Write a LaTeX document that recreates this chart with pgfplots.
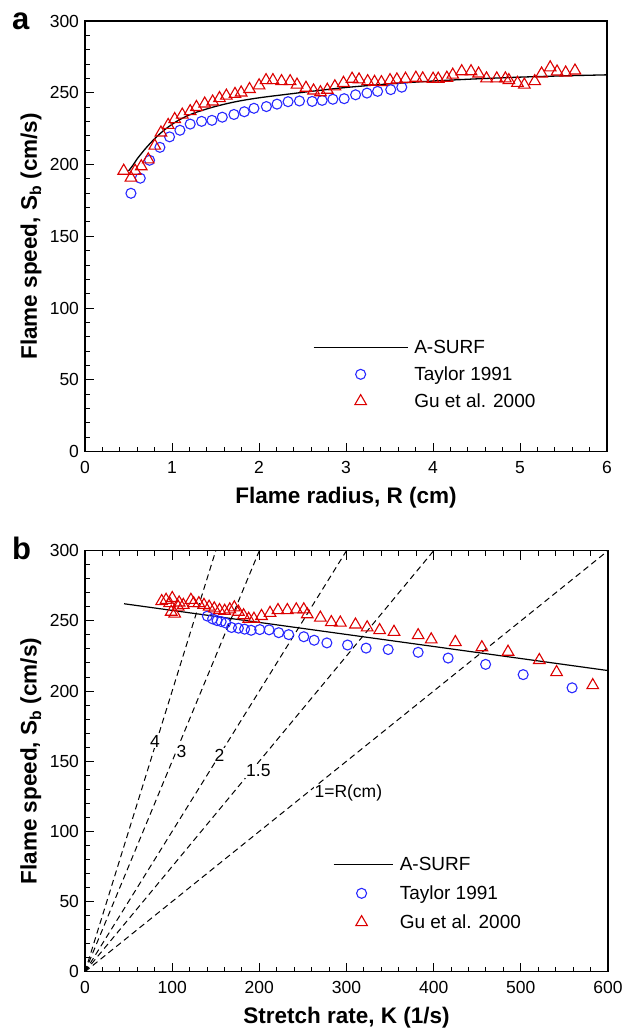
\documentclass[border=0pt]{standalone}
\usepackage{pgfplots}
\pgfplotsset{compat=1.18}
\usepackage{fontspec}
\setmainfont{Liberation Sans}
\definecolor{myblue}{RGB}{40,40,255}
\definecolor{myred}{RGB}{220,0,0}
\newcommand{\tfs}{\fontsize{17.5bp}{20bp}\selectfont}
\newcommand{\lfs}{\fontsize{22.5bp}{25bp}\selectfont\bfseries}
\newcommand{\gfs}{\fontsize{19bp}{22bp}\selectfont}

\pgfplotstableread{
R S
0.528 180
0.635 190.5
0.742 203
0.861 212
0.972 219.3
1.091 223.9
1.209 228.2
1.340 230.1
1.459 230.8
1.578 233.0
1.712 234.9
1.831 236.8
1.942 239.2
2.085 240.4
2.207 242.1
2.334 243.8
2.465 244.3
2.611 244.0
2.726 244.7
2.849 245.5
2.979 245.9
3.110 248.6
3.241 249.8
3.363 251.0
3.514 252.2
3.641 253.9
}\taylorA

\pgfplotstableread{
R S
0.445 195.6
0.528 190.8
0.576 195.6
0.647 198.7
0.727 203.5
0.802 213.1
0.873 222.2
0.956 227.5
1.031 231.6
1.118 234.7
1.209 237.1
1.281 240.0
1.376 242.4
1.467 243.8
1.546 246.2
1.625 247.9
1.724 249.1
1.795 250.1
1.891 252.5
2.001 255.1
2.081 258.7
2.160 258.7
2.259 258.0
2.358 258.0
2.437 255.6
2.540 253.4
2.627 251.5
2.706 250.3
2.785 252.0
2.872 254.4
2.971 256.8
3.070 259.7
3.150 259.2
3.249 258.0
3.328 257.5
3.407 257.3
3.506 258.7
3.585 259.2
3.684 259.7
3.803 260.4
3.882 259.9
4.001 259.7
4.060 259.7
4.159 260.4
4.227 262.5
4.330 264.9
4.437 264.9
4.524 263.3
4.615 259.9
4.733 259.9
4.832 259.9
4.872 258.7
4.971 256.8
5.050 255.6
5.169 258.0
5.248 263.3
5.347 267.6
5.426 264.7
5.525 264.0
5.632 265.4
}\guA

\pgfplotstableread{
R S
0.50 195.5
0.55 199.5
0.60 204
0.65 207.8
0.70 211.5
0.80 218
0.90 223.5
1.00 228
1.10 231.7
1.25 235.8
1.50 240.5
1.75 244
2.00 246.5
2.30 248.8
2.60 251
3.00 253.7
3.50 256.2
4.00 258.2
4.50 259.7
5.00 260.9
5.50 261.8
6.00 262.5
}\surfA

\pgfplotstableread{
K S
140.4 253.4
146.4 251.4
151.5 250.2
156.2 249.5
161.4 248.5
168.1 245.3
176.0 244.8
183.1 244.1
190.6 243.3
200.5 243.8
211.2 243.6
222.2 241.6
233.7 240.2
251.0 238.7
262.9 236.2
277.5 234.3
301.2 232.8
322.5 230.6
347.8 229.6
382.2 227.6
416.6 223.5
459.6 219.0
502.7 211.7
558.8 202.3
}\taylorB

\pgfplotstableread{
K S
88.0 264.0
93.0 264.9
100.1 266.2
97.0 262.5
98.9 256.4
102.9 255.1
106.9 260.0
108.0 263.0
112.8 261.3
121.5 264.9
124.6 262.5
130.6 262.5
136.5 261.3
142.4 260.0
148.3 258.8
154.3 257.6
160.2 257.1
166.1 258.1
171.3 259.5
176.0 256.4
181.9 253.9
187.8 251.4
193.8 251.4
202.5 253.4
212.3 255.6
221.4 257.6
232.1 257.6
242.4 258.1
251.0 258.1
255.0 254.6
270.0 252.2
282.6 249.0
292.9 248.7
310.3 247.3
323.7 245.3
338.0 243.3
354.5 242.1
382.2 239.7
397.2 236.7
424.9 234.8
455.3 231.1
485.3 227.9
521.2 222.0
541.0 213.4
582.5 204.1
}\guB

\pgfplotsset{
  common/.style={
    scale only axis,
    axis line style={line width=1.2bp},
    every tick/.style={black, line width=1bp},
    major tick length=9bp, minor tick length=5bp,
    tick align=inside,
    /pgf/number format/assume math mode=true,
    tick label style={font=\tfs},
    xticklabel style={yshift=-5.8bp},
    yticklabel style={xshift=-2.5bp},
    label style={font=\lfs},
    ymin=0, ymax=300, ytick={0,50,...,300},
    minor x tick num=4, minor y tick num=4,
    ylabel={Flame speed, S\textsubscript{b} (cm/s)},
    ylabel style={at={(axis description cs:-0.1034,0.5)}, anchor=center},
    legend cell align=left,
  },
  circ/.style={only marks, mark=o, mark size=5bp, myblue, mark options={line width=1.1bp}},
  tri/.style={only marks, mark=triangle, mark size=6.7bp, myred, mark options={line width=1.1bp}},
  legline/.style={legend image code/.code={\draw[##1] (0bp,6.5bp) -- (#1,6.5bp);}},
  legmark/.style 2 args={legend image code/.code={\path[draw=none] (0bp,6.5bp) -- (#1,6.5bp); \path[##1,draw=none] plot[only marks] coordinates {(#2,6.5bp)};}},
}

\begin{document}
\begin{tikzpicture}
\useasboundingbox (0,0) rectangle (630bp,-1029bp);

\begin{axis}[common,
  at={(85bp,-451.7bp)}, anchor=south west,
  width=522bp, height=430.7bp,
  xmin=0, xmax=6, xtick={0,1,...,6},
  xtick pos=bottom, ytick pos=left,
  xlabel={Flame radius, R (cm)},
  xlabel style={at={(axis description cs:0.5,-0.1207)}, anchor=base},
  legend style={draw=none, fill=none, at={(axis description cs:0.4368,0.2598)}, anchor=north west,
    inner sep=0pt, outer sep=0pt, row sep=9bp, column sep=6bp,
    nodes={inner sep=0pt, text height=14bp, text depth=4bp, font=\gfs, anchor=base west}},
]
\addplot[black, line width=1.3bp, smooth, legline=94bp] table[x=R,y=S] {\surfA};
\addlegendentry{A-SURF}
\addplot[circ, legmark={94bp}{47bp}] table[x=R,y=S] {\taylorA};
\addlegendentry{Taylor 1991}
\addplot[tri, legmark={94bp}{47bp}] table[x=R,y=S] {\guA};
\addlegendentry{Gu et al. 2000}
\end{axis}

\begin{axis}[common,
  at={(85bp,-971.7bp)}, anchor=south west,
  width=523bp, height=421bp,
  xmin=0, xmax=600, xtick={0,100,...,600},
  xtick pos=both, ytick pos=left,
  xlabel={Stretch rate, K (1/s)},
  xlabel style={at={(axis description cs:0.5,-0.1235)}, anchor=base},
  legend style={draw=none, fill=none, at={(axis description cs:0.4742,0.2729)}, anchor=north west,
    inner sep=0pt, outer sep=0pt, row sep=11bp, column sep=6.6bp,
    nodes={inner sep=0pt, text height=14bp, text depth=4bp, font=\gfs, anchor=base west}},
]
\addplot[black, line width=1bp, dash pattern=on 6bp off 4bp, forget plot] coordinates {(0,0) (150,300)};
\addplot[black, line width=1bp, dash pattern=on 6bp off 4bp, forget plot] coordinates {(0,0) (200,300)};
\addplot[black, line width=1bp, dash pattern=on 6bp off 4bp, forget plot] coordinates {(0,0) (300,300)};
\addplot[black, line width=1bp, dash pattern=on 6bp off 4bp, forget plot] coordinates {(0,0) (400,300)};
\addplot[black, line width=1bp, dash pattern=on 6bp off 4bp, forget plot] coordinates {(0,0) (600,300)};
\node[font=\tfs, fill=white, inner sep=1bp] at (axis cs:80.4,164.3) {4};
\node[font=\tfs, fill=white, inner sep=1bp] at (axis cs:110.8,156.9) {3};
\node[font=\tfs, fill=white, inner sep=1bp] at (axis cs:154.2,154.3) {2};
\node[font=\tfs, fill=white, inner sep=1bp] at (axis cs:198.9,143.2) {1.5};
\node[font=\tfs, fill=white, inner sep=1bp, anchor=west] at (axis cs:262,127.3) {1=R(cm)};
\addplot[black, line width=1.2bp, legline=59bp] coordinates {(44.8,262.2) (600,214.6)};
\addlegendentry{A-SURF}
\addplot[circ, legmark={59bp}{28bp}] table[x=K,y=S] {\taylorB};
\addlegendentry{Taylor 1991}
\addplot[tri, legmark={59bp}{28bp}] table[x=K,y=S] {\guB};
\addlegendentry{Gu et al. 2000}
\end{axis}

\node[anchor=base west, inner sep=0pt, font=\fontsize{31bp}{31bp}\selectfont\bfseries] at (12bp,-29bp) {a};
\node[anchor=base west, inner sep=0pt, font=\fontsize{31bp}{31bp}\selectfont\bfseries] at (12bp,-559bp) {b};
\end{tikzpicture}
\end{document}
